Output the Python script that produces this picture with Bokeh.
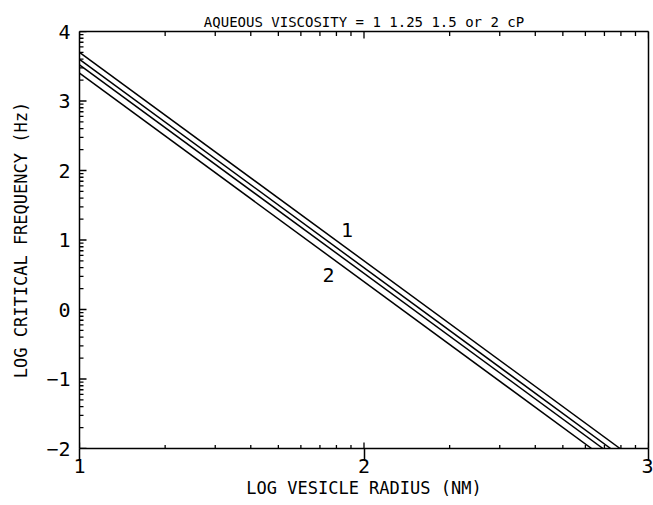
import math
from bokeh.plotting import figure
from bokeh.models import ColumnDataSource, FixedTicker, LinearAxis, Range1d
from bokeh.core.properties import value
from bokeh.embed import file_html
from bokeh.resources import INLINE

# Critical frequency vs. vesicle radius for four aqueous viscosities (cP)
viscosity = [1, 1.25, 1.5, 2]
log_radius_start = [1.0, 1.0, 1.0, 1.0]
log_freq_start = [3.70, 3.60, 3.52, 3.40]
log_radius_end = [2.90, 2.867, 2.84, 2.80]
log_freq_end = [-2.0, -2.0, -2.0, -2.0]

# curve tags written on the plot
tag_text = ["1", "2"]
tag_x = [1.94, 1.875]
tag_y = [1.15, 0.50]

x_major = [1, 2, 3]
y_major = [-2, -1, 0, 1, 2, 3, 4]

X_LO, X_HI = 1, 3
Y_LO, Y_HI = -2, 4

FONT = "DejaVu Sans Mono"
INK = "black"


def log_minors(majors):
    out = []
    for m in majors[:-1]:
        for k in range(2, 10):
            out.append(m + math.log10(k))
    return out


x_minor = log_minors(x_major)
y_minor = log_minors(y_major)

p = figure(width=653, height=505, x_range=Range1d(X_LO, X_HI),
           y_range=Range1d(Y_LO, Y_HI),
           output_backend="svg", toolbar_location=None,
           min_border_left=79, min_border_right=5, min_border_top=31,
           min_border_bottom=57, background_fill_color="white",
           border_fill_color="white")
p.outline_line_color = None
p.grid.visible = False

p.title.text = "AQUEOUS VISCOSITY = 1 1.25 1.5 or 2 cP"
p.title.align = "center"
p.title.text_font = FONT
p.title.text_font_size = "14px"
p.title.text_font_style = "normal"
p.title.text_color = INK
p.title.offset = 0
p.title.standoff = 4

xa = p.xaxis[0]
xa.ticker = FixedTicker(ticks=x_major, minor_ticks=[])
xa.axis_label = "LOG VESICLE RADIUS (NM)"
xa.axis_label_text_font = FONT
xa.axis_label_text_font_size = "17px"
xa.axis_label_text_font_style = "normal"
xa.axis_label_text_color = INK
xa.axis_label_standoff = 2
xa.major_label_text_font = FONT
xa.major_label_text_font_size = "20px"
xa.major_label_text_color = INK
xa.major_label_standoff = -2
xa.major_tick_in = 0
xa.major_tick_out = 12
xa.axis_line_width = 1.5
xa.major_tick_line_width = 1.5

ya = p.yaxis[0]
ya.ticker = FixedTicker(ticks=y_major, minor_ticks=[])
ya.axis_label = "LOG CRITICAL FREQUENCY (Hz)"
ya.axis_label_text_font = FONT
ya.axis_label_text_font_size = "17px"
ya.axis_label_text_font_style = "normal"
ya.axis_label_text_color = INK
ya.axis_label_standoff = 12
ya.major_label_text_font = FONT
ya.major_label_text_font_size = "20px"
ya.major_label_text_color = INK
ya.major_label_standoff = 9
ya.major_label_orientation = "horizontal"
ya.major_tick_in = 0
ya.major_tick_out = 0
ya.axis_line_width = 1.5

# frame top and right: plain lines
top = LinearAxis(ticker=FixedTicker(ticks=[], minor_ticks=[]),
                 major_tick_in=0, major_tick_out=0,
                 minor_tick_in=0, minor_tick_out=0, axis_line_width=1.5)
p.add_layout(top, "above")
right = LinearAxis(ticker=FixedTicker(ticks=[], minor_ticks=[]),
                   major_tick_in=0, major_tick_out=0,
                   minor_tick_in=0, minor_tick_out=0, axis_line_width=1.5)
p.add_layout(right, "right")

# inward tick marks: dashes centred on the frame edges, the outer half is
# clipped away by the frame
tick_style = dict(marker="dash", line_color=INK, line_width=1.3)
# left edge
p.scatter(x=[X_LO] * len(y_major), y=y_major, size=14, **tick_style)
p.scatter(x=[X_LO] * len(y_minor), y=y_minor, size=8, **tick_style)
# bottom edge
p.scatter(x=x_major, y=[Y_LO] * len(x_major), size=12, angle=math.pi / 2,
          **tick_style)
p.scatter(x=x_minor, y=[Y_LO] * len(x_minor), size=7, angle=math.pi / 2,
          **tick_style)
# top edge
p.scatter(x=x_major, y=[Y_HI] * len(x_major), size=14, angle=math.pi / 2,
          **tick_style)
p.scatter(x=x_minor, y=[Y_HI] * len(x_minor), size=9, angle=math.pi / 2,
          **tick_style)

src = ColumnDataSource(dict(x0=log_radius_start, y0=log_freq_start,
                            x1=log_radius_end, y1=log_freq_end,
                            eta=viscosity))
p.segment("x0", "y0", "x1", "y1", source=src, line_color=INK,
          line_width=1.5)

p.text(x=tag_x, y=tag_y, text=tag_text, text_font=value(FONT),
       text_font_size="20px", text_align="center", text_baseline="middle",
       text_color=INK)

open("out.html", "w").write(file_html(p, INLINE))
